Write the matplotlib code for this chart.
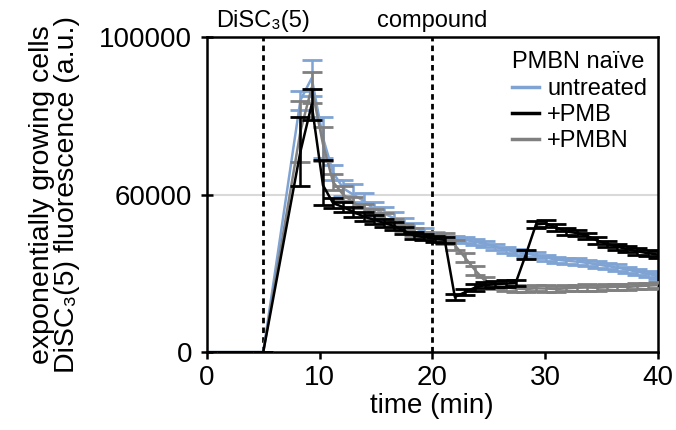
import matplotlib
matplotlib.use('Agg')
import matplotlib.pyplot as plt
import numpy as np

plt.rcParams['font.family'] = ['Liberation Sans', 'DejaVu Sans']

# time points (min)
time = [0, 5.0, 8.3, 9.3, 10.3, 11.2, 12.1, 13.0, 13.9, 14.8, 15.7, 16.6, 17.5,
        18.4, 19.3, 20.2, 21.1, 22.0, 22.9, 23.8, 24.7, 25.6, 26.5, 27.4, 28.3,
        29.2, 30.1, 31.0, 31.9, 32.8, 33.7, 34.6, 35.5, 36.4, 37.3, 38.2, 39.1, 40.0]

# untreated
untreated = [0, 0, 84000, 89600, 74500, 65700, 61700, 60100, 57800, 54800, 53000,
             51200, 49400, 47600, 45800, 44500, 43300, 43300, 42900, 42100, 41400,
             40300, 39100, 38300, 37600, 37000, 36100, 35300, 34900, 34600, 34100,
             33500, 32900, 32300, 31500, 30700, 29900, 29100]
untreated_err = [0, 0, 2400, 4600, 5200, 2000, 2200, 2600, 2650, 2400, 2400,
                 2150, 1800, 1800, 1450, 1450, 1200, 1200, 1200, 1200, 1200,
                 1200, 1200, 1200, 1200, 1200, 1200, 1200, 1200, 1200, 1200,
                 1200, 1200, 1200, 1200, 1200, 1200, 1200]

# +PMB
pmb = [0, 0, 71000, 82900, 62500, 56900, 55400, 53600, 51800, 50600, 49400,
       48200, 46400, 44500, 43900, 43300, 42900, 21100, 22900, 24700, 25600,
       26000, 26200, 26500, 37300, 48800, 49100, 47600, 46100, 45500, 44500,
       42700, 41300, 40300, 39300, 38500, 37800, 37300]
pmb_err = [0, 0, 8800, 4000, 6300, 1800, 1800, 1800, 1800, 1800, 1450,
           1450, 1450, 1450, 1200, 1200, 1200, 1200, 1200, 1200, 1200,
           1200, 1200, 1200, 1800, 1200, 1200, 1200, 1200, 1200, 1200,
           1200, 1200, 1200, 1200, 1200, 1200, 1200]

# +PMBN
pmbn = [0, 0, 76100, 87200, 72900, 63300, 60100, 57200, 54800, 53000, 51200,
        49400, 47600, 45800, 44500, 43900, 43300, 40900, 36100, 31300, 27100,
        25300, 24700, 24300, 24100, 24400, 24300, 24100, 24400, 24600, 24700,
        24600, 24800, 25000, 24900, 25200, 25400, 25600]
pmbn_err = [0, 0, 7700, 4000, 4300, 2000, 2200, 2150, 1800, 1800, 1800,
            1450, 1450, 1450, 1450, 1200, 2100, 1800, 1800, 1800, 1450,
            1200, 1200, 1200, 1200, 1200, 1200, 1200, 1200, 1200, 1200,
            1200, 1200, 1200, 1200, 1200, 1200, 1200]

yticks = [0, 60000, 100000]
xticks = [0, 10, 20, 30, 40]


# the y axis is stretched above 60000 (0-60000 and 60000-100000 take about equal height)
def fwd(y):
    y = np.asarray(y, dtype=float)
    return np.where(y < 60000, y * 157 / 60000, 157 + (y - 60000) * 158 / 40000)


def inv(u):
    u = np.asarray(u, dtype=float)
    return np.where(u < 157, u * 60000 / 157, 60000 + (u - 157) * 40000 / 158)


fig = plt.figure(figsize=(6.76, 4.3), dpi=100)
ax = fig.add_axes([0.306, 0.181, 0.667, 0.733])
ax.set_yscale('function', functions=(fwd, inv))

ax.axhline(60000, color='#d9d9d9', lw=1.5, zorder=0)
ax.axvline(5, color='black', lw=2, linestyle=(0, (2, 1.5)), zorder=1)
ax.axvline(20, color='black', lw=2, linestyle=(0, (2, 1.5)), zorder=1)

eb_kw = dict(lw=1.8, elinewidth=1.8, capsize=7, capthick=2)
hUnt = ax.errorbar(time, untreated, yerr=untreated_err, color='#7fa3d3', zorder=2, **eb_kw)
hPmbn = ax.errorbar(time, pmbn, yerr=pmbn_err, color='#808080', zorder=3, **eb_kw)
hPmb = ax.errorbar(time, pmb, yerr=pmb_err, color='black', zorder=4, **eb_kw)

ax.set_xlim(0, 40)
ax.set_ylim(0, 100000)
ax.set_xticks(xticks)
ax.set_yticks(yticks)
ax.set_yticklabels([str(v) for v in yticks])
ax.yaxis.set_minor_locator(matplotlib.ticker.NullLocator())
ax.tick_params(axis='y', direction='inout', length=9, width=1.8, labelsize=20, pad=6)
ax.tick_params(axis='x', direction='out', length=5, width=1.8, labelsize=20, pad=4)
for s in ax.spines.values():
    s.set_linewidth(1.8)

ax.set_xlabel('time (min)', fontsize=20, labelpad=2)
ax.set_ylabel('exponentially growing cells\nDiSC\u2083(5) fluorescence (a.u.)',
              fontsize=20.5, linespacing=0.95, labelpad=14)

ax.text(5, 101200, 'DiSC\u2083(5)', ha='center', va='bottom', fontsize=17)
ax.text(20, 101200, 'compound', ha='center', va='bottom', fontsize=17)

ax.text(0.676, 0.92, 'PMBN na\u00efve', transform=ax.transAxes, ha='left', va='center',
        fontsize=17)
leg = ax.legend([hUnt[0], hPmb[0], hPmbn[0]], ['untreated', '+PMB', '+PMBN'],
                loc='upper left', bbox_to_anchor=(0.676, 0.87),
                frameon=False, fontsize=17, handlelength=1.15,
                handletextpad=0.35, labelspacing=0.17, borderaxespad=0.0,
                borderpad=0.0)
for line in leg.get_lines():
    line.set_linewidth(2.5)

fig.savefig('out.png', dpi=100)
